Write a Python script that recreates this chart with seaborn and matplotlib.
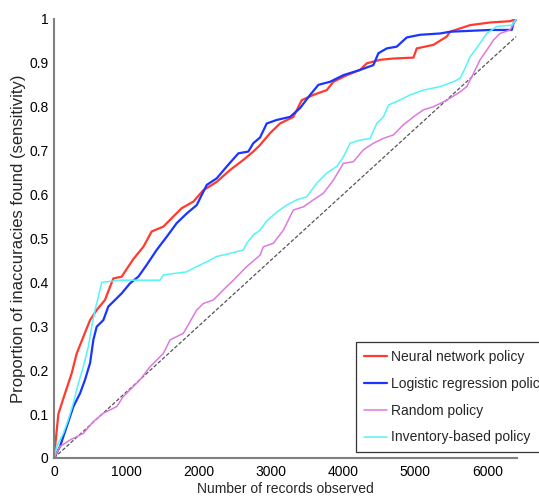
import numpy as np
import pandas as pd
import matplotlib
matplotlib.use("Agg")
import matplotlib.pyplot as plt
import seaborn as sns

# values
nn_x = [0, 60, 152, 245, 314, 406, 499, 591, 706, 776, 822, 937, 1029, 1098, 1237, 1353,
        1514, 1652, 1768, 1930, 2068, 2253, 2438, 2622, 2760, 2853, 2992, 3130, 3315, 3430,
        3591, 3777, 3869, 4054, 4238, 4331, 4515, 4700, 4977, 5023, 5253, 5439, 5485, 5762,
        6039, 6316, 6400]
nn_y = [0, 0.10, 0.147, 0.193, 0.238, 0.276, 0.314, 0.337, 0.36, 0.39, 0.409, 0.413, 0.436,
        0.453, 0.481, 0.516, 0.527, 0.55, 0.569, 0.584, 0.61, 0.629, 0.656, 0.679, 0.698,
        0.713, 0.74, 0.762, 0.777, 0.815, 0.827, 0.838, 0.857, 0.872, 0.884, 0.899, 0.907,
        0.91, 0.912, 0.933, 0.941, 0.96, 0.971, 0.986, 0.992, 0.995, 1.0]

lr_x = [0, 83, 175, 268, 360, 429, 499, 545, 591, 683, 752, 845, 937, 1053, 1168, 1284,
        1422, 1561, 1699, 1838, 1976, 2115, 2253, 2392, 2553, 2691, 2760, 2853, 2946, 3084,
        3269, 3407, 3546, 3661, 3823, 4007, 4238, 4423, 4492, 4608, 4746, 4885, 5069, 5346,
        5485, 6039, 6339, 6362, 6400]
lr_y = [0, 0.026, 0.071, 0.117, 0.147, 0.178, 0.216, 0.269, 0.299, 0.314, 0.345, 0.36,
        0.375, 0.398, 0.413, 0.440, 0.474, 0.504, 0.535, 0.557, 0.576, 0.622, 0.637, 0.664,
        0.694, 0.698, 0.717, 0.730, 0.762, 0.77, 0.777, 0.797, 0.827, 0.85, 0.857, 0.872,
        0.884, 0.895, 0.922, 0.933, 0.937, 0.958, 0.964, 0.967, 0.971, 0.975, 0.975, 0.99, 1.0]

rnd_x = [0, 83, 222, 406, 545, 683, 868, 960, 1191, 1330, 1514, 1607, 1791, 1976, 2068,
         2207, 2345, 2484, 2669, 2853, 2899, 3037, 3176, 3315, 3453, 3591, 3730, 3869, 4007,
         4146, 4284, 4423, 4561, 4700, 4838, 4977, 5115, 5253, 5439, 5623, 5716, 5808, 5900,
         5993, 6085, 6177, 6316, 6400]
rnd_y = [0, 0.026, 0.041, 0.056, 0.083, 0.102, 0.117, 0.14, 0.178, 0.208, 0.238, 0.269,
         0.284, 0.337, 0.352, 0.36, 0.383, 0.405, 0.436, 0.462, 0.481, 0.489, 0.519, 0.565,
         0.572, 0.588, 0.603, 0.633, 0.671, 0.675, 0.702, 0.717, 0.728, 0.736, 0.759, 0.777,
         0.793, 0.80, 0.815, 0.834, 0.846, 0.876, 0.907, 0.929, 0.952, 0.967, 0.975, 1.0]

inv_x = [0, 37, 129, 198, 268, 337, 406, 476, 522, 568, 614, 660, 914, 1468, 1514, 1838,
         1976, 2115, 2253, 2438, 2622, 2669, 2760, 2853, 2946, 3084, 3223, 3361, 3500, 3638,
         3777, 3915, 4007, 4100, 4238, 4377, 4469, 4561, 4631, 4746, 4931, 5115, 5346, 5531,
         5623, 5693, 5762, 5831, 5900, 5993, 6131, 6339, 6400]
inv_y = [0, 0.026, 0.056, 0.087, 0.125, 0.17, 0.208, 0.254, 0.299, 0.337, 0.367, 0.400,
         0.405, 0.405, 0.417, 0.424, 0.436, 0.447, 0.459, 0.466, 0.474, 0.489, 0.508, 0.519,
         0.540, 0.560, 0.576, 0.588, 0.595, 0.626, 0.649, 0.664, 0.686, 0.717, 0.724, 0.728,
         0.762, 0.777, 0.804, 0.812, 0.827, 0.838, 0.846, 0.857, 0.865, 0.888, 0.914, 0.929,
         0.945, 0.967, 0.983, 0.986, 1.0]

diag_x = [0, 6400]
diag_y = [0, 0.96]

x_ticks = [0, 1000, 2000, 3000, 4000, 5000, 6000]
y_ticks = [0, 0.1, 0.2, 0.3, 0.4, 0.5, 0.6, 0.7, 0.8, 0.9, 1.0]
y_tick_labels = ["0", "0.1", "0.2", "0.3", "0.4", "0.5", "0.6", "0.7", "0.8", "0.9", "1"]

sns.set_style("white")
plt.rcParams['font.family'] = ['Liberation Sans', 'DejaVu Sans']

fig = plt.figure(figsize=(5.39, 4.97), dpi=100)
ax = fig.add_axes([0.1002, 0.0785, 0.8588, 0.8833])

sns.lineplot(x=diag_x, y=diag_y, ax=ax, color="#555555", linestyle=(0, (3, 1.5)),
             linewidth=0.9, estimator=None)
sns.lineplot(x=nn_x, y=nn_y, ax=ax, color="#ff3b2f", linewidth=1.6,
             label="Neural network policy", estimator=None)
sns.lineplot(x=lr_x, y=lr_y, ax=ax, color="#1a35ff", linewidth=1.6,
             label="Logistic regression policy", estimator=None)
sns.lineplot(x=rnd_x, y=rnd_y, ax=ax, color="#de7ade", linewidth=1.1,
             label="Random policy", estimator=None)
sns.lineplot(x=inv_x, y=inv_y, ax=ax, color="#55f5f5", linewidth=1.1,
             label="Inventory-based policy", estimator=None)

ax.set_xlim(0, 6410)
ax.set_ylim(0, 1)
ax.set_xticks(x_ticks)
ax.set_xticklabels([str(t) for t in x_ticks])
ax.set_yticks(y_ticks)
ax.set_yticklabels(y_tick_labels)
ax.tick_params(direction="in", length=5, width=1, color="#808080",
               labelsize=10, labelcolor="black")
ax.tick_params(axis="x", pad=5)
ax.tick_params(axis="y", pad=4)
for s in ["top", "right"]:
    ax.spines[s].set_visible(False)
for s in ["left", "bottom"]:
    ax.spines[s].set_color("#808080")
    ax.spines[s].set_linewidth(1.5)

ax.set_xlabel("Number of records observed", fontsize=10, labelpad=2)
ax.set_ylabel("Proportion of inaccuracies found (sensitivity)", fontsize=12, labelpad=2)

leg = ax.legend(loc="lower left", bbox_to_anchor=(356 / 539, 45 / 497),
                bbox_transform=fig.transFigure, fontsize=10, frameon=True,
                fancybox=False, edgecolor="black", handlelength=1.7,
                handletextpad=0.3, labelspacing=0.92, borderaxespad=0,
                borderpad=0.55)
leg.get_frame().set_linewidth(0.9)

fig.savefig("out.png", dpi=100)
